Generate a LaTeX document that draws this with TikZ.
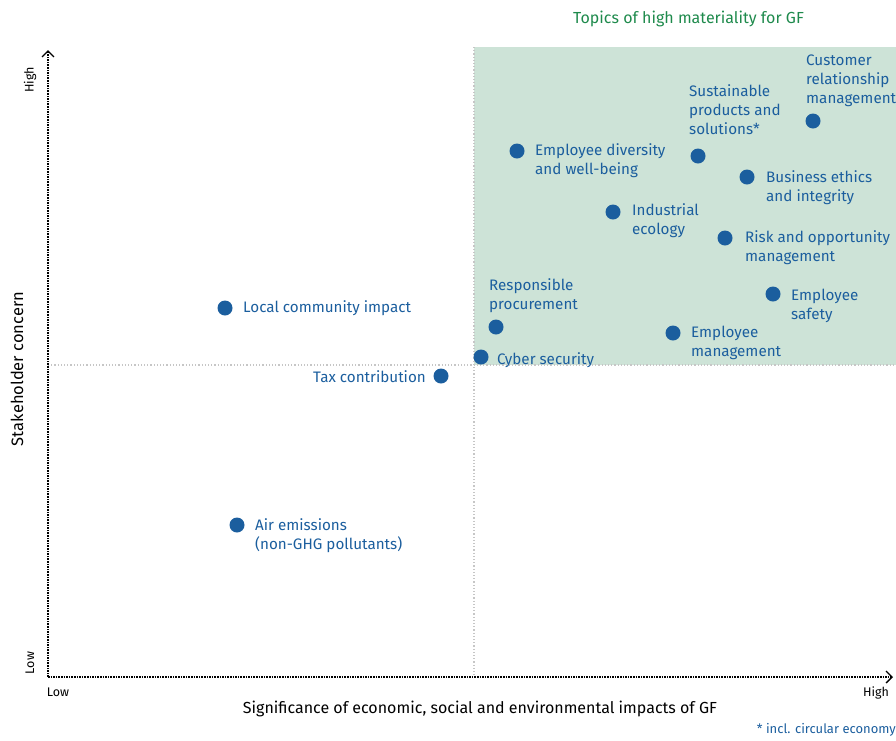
\documentclass[tikz,border=0pt]{standalone}
\usepackage{fontspec}
\setmainfont{Fira Sans}
\usetikzlibrary{arrows.meta}
\definecolor{gfblue}{HTML}{1B5E9E}
\definecolor{gfgreen}{HTML}{1E8A4C}
\definecolor{gfzone}{HTML}{CDE3D7}
\begin{document}
\begin{tikzpicture}[x=1pt,y=-1pt,
  dot/.style={circle,fill=gfblue,inner sep=0pt,minimum size=15pt},
  lbl/.style={text=gfblue,font=\fontsize{15.2}{19}\selectfont,align=left,inner sep=0pt},
  axis/.style={line width=1.6pt,densely dotted,-{Straight Barb[length=6pt,width=12pt,line width=1.3pt]}},
  small/.style={font=\fontsize{12.5}{14}\selectfont,inner sep=0pt}]
\useasboundingbox (0,0) rectangle (896,740);
\fill[gfzone] (474,47) rectangle (896,365);
\draw[gray!45,line width=1.2pt,dotted] (48,365) -- (896,365);
\draw[gray!45,line width=1.2pt,dotted] (474,47) -- (474,677);
\coordinate (o) at (48,677);
\coordinate (ytop) at (48,50);
\coordinate (xend) at (893,677);
\draw[axis] (o) -- (ytop);
\draw[axis] (o) -- (xend);
\node[text=gfgreen,font=\fontsize{16}{18}\selectfont,inner sep=0pt] (title) at (688.5,19) {Topics of high materiality for GF};
\node[small,rotate=90] (yh) at (30,80) {High};
\node[small,rotate=90] (yl) at (30,663) {Low};
\node[small] (xl) at (58,692) {Low};
\node[small] (xh) at (876,693) {High};
\node[font=\fontsize{16.5}{18}\selectfont,rotate=90,inner sep=0pt] (ylab) at (17,369) {Stakeholder concern};
\node[font=\fontsize{16}{18}\selectfont,inner sep=0pt] (xlab) at (480,709) {Significance of economic, social and environmental impacts of GF};
\node[text=gfblue,font=\fontsize{13}{14}\selectfont,anchor=east,inner sep=0pt] (note) at (896,730) {* incl. circular economy};
% topics
\node[dot] (d1) at (517,151) {};
\node[lbl,anchor=west] (l1) at (535,160.5) {Employee diversity\\and well-being};
\node[dot] (d2) at (698,156) {};
\node[lbl,anchor=west] (l2) at (689,110) {Sustainable\\products and\\solutions*};
\node[dot] (d3) at (813,121) {};
\node[lbl,anchor=west] (l3) at (806,81) {Customer\\relationship\\management};
\node[dot] (d4) at (747,177) {};
\node[lbl,anchor=west] (l4) at (766,187.5) {Business ethics\\and integrity};
\node[dot] (d5) at (613,212) {};
\node[lbl,anchor=west] (l5) at (632,220.5) {Industrial\\ecology};
\node[dot] (d6) at (725,238) {};
\node[lbl,anchor=west] (l6) at (745,247.5) {Risk and opportunity\\management};
\node[dot] (d7) at (496,327) {};
\node[lbl,anchor=west] (l7) at (489,295.5) {Responsible\\procurement};
\node[dot] (d8) at (773,294) {};
\node[lbl,anchor=west] (l8) at (791,305.5) {Employee\\safety};
\node[dot] (d9) at (673,333) {};
\node[lbl,anchor=west] (l9) at (691,342.5) {Employee\\management};
\node[dot] (d10) at (481,357) {};
\node[lbl,anchor=west] (l10) at (497,360) {Cyber security};
\node[dot] (d11) at (225,308) {};
\node[lbl,anchor=west] (l11) at (243,308) {Local community impact};
\node[dot] (d12) at (441,376) {};
\node[lbl,anchor=east] (l12) at (426,377) {Tax contribution};
\node[dot] (d13) at (237,525) {};
\node[lbl,anchor=west] (l13) at (255,535.5) {Air emissions\\(non-GHG pollutants)};
\end{tikzpicture}
\end{document}
